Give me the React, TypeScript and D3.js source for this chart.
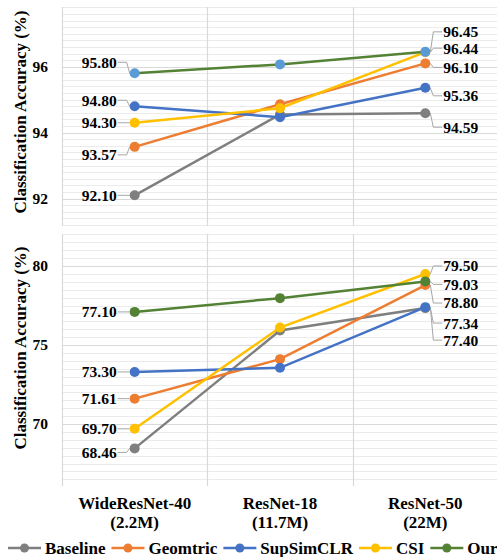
import { useRef, useEffect } from 'react';
import * as d3 from 'd3';

const modelNames = ['WideResNet-40', 'ResNet-18', 'ResNet-50'];
const modelParams = ['(2.2M)', '(11.7M)', '(22M)'];
const seriesNames = ['Baseline', 'Geomtric', 'SupSimCLR', 'CSI', 'Our'];

// top panel values (per series, per model)
const topBaseline = [92.10, 94.55, 94.59];
const topGeomtric = [93.57, 94.86, 96.10];
const topSupSimCLR = [94.80, 94.47, 95.36];
const topCSI = [94.30, 94.74, 96.44];
const topOur = [95.80, 96.07, 96.45];

// bottom panel values
const botBaseline = [68.46, 75.92, 77.34];
const botGeomtric = [71.61, 74.11, 78.80];
const botSupSimCLR = [73.30, 73.56, 77.40];
const botCSI = [69.70, 76.11, 79.50];
const botOur = [77.10, 77.97, 79.03];

const topTicks = [92, 94, 96];
const botTicks = [70, 75, 80];

const W = 497;
const H = 557;
const FONT = 'Liberation Serif, Times New Roman, serif';
const colors = ['#7f7f7f', '#ed7d31', '#4472c4', '#ffc000', '#548235'];
const GRID = '#d9d9d9';
const MINOR = '#ebebeb';
const LEADER = '#a6a6a6';

// label vertical offsets (px) from the point, [left, right]
const topLabelDy = [[0, 14], [8, 4], [-6, 8], [0, -4], [-11, -20]];
const botLabelDy = [[4, 15], [0, 18], [0, 33], [0, -8], [0, 3]];

export default function App() {
    const svgRef = useRef<SVGSVGElement | null>(null);

    useEffect(() => {
        if (!svgRef.current) return;
        const svg = d3.select(svgRef.current);
        svg.selectAll('*').remove();

        const x = d3.scaleBand<string>()
            .domain(modelNames)
            .range([62, 498]);

        const drawPanel = (
            values: number[][],
            domain: [number, number],
            range: [number, number],
            ticks: number[],
            minorStep: number,
            labelDy: number[][],
            titleY: number,
            ourMarker: string
        ) => {
            const y = d3.scaleLinear().domain(domain).range(range);
            const g = svg.append('g');

            // minor grid
            const minor = d3.range(Math.ceil(domain[0] / minorStep) * minorStep, domain[1] + 0.001, minorStep);
            g.selectAll('.minor')
                .data(minor)
                .join('line')
                .attr('x1', 62).attr('x2', W)
                .attr('y1', d => Math.round(y(d)) + 0.5)
                .attr('y2', d => Math.round(y(d)) + 0.5)
                .attr('stroke', MINOR)
                .attr('stroke-width', 1);

            // major grid
            g.selectAll('.major')
                .data(ticks)
                .join('line')
                .attr('x1', 62).attr('x2', W)
                .attr('y1', d => Math.round(y(d)) + 0.5)
                .attr('y2', d => Math.round(y(d)) + 0.5)
                .attr('stroke', GRID)
                .attr('stroke-width', 1.2);

            // vertical band lines
            g.selectAll('.vline')
                .data(modelNames)
                .join('line')
                .attr('x1', d => Math.round(x(d)!) + 0.5)
                .attr('x2', d => Math.round(x(d)!) + 0.5)
                .attr('y1', range[1])
                .attr('y2', range[0])
                .attr('stroke', GRID)
                .attr('stroke-width', 1.2);

            // tick labels
            g.selectAll('.tick')
                .data(ticks)
                .join('text')
                .attr('x', 48)
                .attr('y', d => y(d))
                .attr('dy', '0.35em')
                .attr('text-anchor', 'end')
                .attr('font-family', FONT)
                .attr('font-weight', 'bold')
                .attr('font-size', 15.5)
                .text(d => d);

            // axis title
            g.append('text')
                .attr('transform', `translate(26, ${titleY}) rotate(-90)`)
                .attr('text-anchor', 'middle')
                .attr('font-family', FONT)
                .attr('font-weight', 'bold')
                .attr('font-size', 17)
                .text('Classification Accuracy (%)');

            const cx = (i: number) => x(modelNames[i])! + x.bandwidth() / 2;
            const line = d3.line<number>()
                .x((_, i) => cx(i))
                .y(d => y(d));

            // leaders + labels
            values.forEach((vals, s) => {
                const ends = [0, vals.length - 1];
                ends.forEach((idx, side) => {
                    const px = cx(idx);
                    const py = y(vals[idx]);
                    const ly = py + labelDy[s][side];
                    const dir = side === 0 ? -1 : 1;
                    const tx = px + dir * 18;
                    g.append('path')
                        .attr('d', `M${px + dir * 5},${py} L${px + dir * 8},${ly} L${tx - dir * 1},${ly}`)
                        .attr('fill', 'none')
                        .attr('stroke', LEADER)
                        .attr('stroke-width', 1);
                    g.append('text')
                        .attr('x', tx)
                        .attr('y', ly)
                        .attr('dy', '0.35em')
                        .attr('text-anchor', side === 0 ? 'end' : 'start')
                        .attr('font-family', FONT)
                        .attr('font-weight', 'bold')
                        .attr('font-size', 15.5)
                        .text(vals[idx].toFixed(2));
                });
            });

            // series lines + markers
            values.forEach((vals, s) => {
                g.append('path')
                    .datum(vals)
                    .attr('d', line)
                    .attr('fill', 'none')
                    .attr('stroke', colors[s])
                    .attr('stroke-width', 2.5);
                g.selectAll(`.m${s}`)
                    .data(vals)
                    .join('circle')
                    .attr('cx', (_, i) => cx(i))
                    .attr('cy', d => y(d))
                    .attr('r', 5)
                    .attr('fill', s === 4 ? ourMarker : colors[s]);
            });
        };

        drawPanel(
            [topBaseline, topGeomtric, topSupSimCLR, topCSI, topOur],
            [91.17, 97.81], [226, 7], topTicks, 0.2, topLabelDy, 112, '#5b9bd5'
        );
        drawPanel(
            [botBaseline, botGeomtric, botSupSimCLR, botCSI, botOur],
            [66.08, 82.03], [486, 234], botTicks, 0.5, botLabelDy, 348, colors[4]
        );

        // x-axis category labels
        modelNames.forEach((name, i) => {
            const cx = x(name)! + x.bandwidth() / 2;
            const t = svg.append('text')
                .attr('text-anchor', 'middle')
                .attr('font-family', FONT)
                .attr('font-weight', 'bold')
                .attr('font-size', 17);
            t.append('tspan').attr('x', cx).attr('y', 509).text(name);
            t.append('tspan').attr('x', cx).attr('y', 528).text(modelParams[i]);
        });

        // legend
        const legend = svg.append('g');
        let cursor = 8;
        const ly = 548;
        seriesNames.forEach((name, s) => {
            legend.append('line')
                .attr('x1', cursor).attr('x2', cursor + 33)
                .attr('y1', ly).attr('y2', ly)
                .attr('stroke', colors[s])
                .attr('stroke-width', 2.5);
            legend.append('circle')
                .attr('cx', cursor + 16.5).attr('cy', ly).attr('r', 4.5)
                .attr('fill', colors[s]);
            const txt = legend.append('text')
                .attr('x', cursor + 37)
                .attr('y', ly)
                .attr('dy', '0.35em')
                .attr('font-family', FONT)
                .attr('font-weight', 'bold')
                .attr('font-size', 17)
                .text(name);
            const tw = (txt.node() as SVGTextElement).getComputedTextLength();
            cursor += 37 + tw + 6;
        });
    }, []);

    return (
        <svg
            ref={svgRef}
            width={W}
            height={H}
            style={{ position: 'absolute', left: 0, top: 0, background: '#fff' }}
        />
    );
}
